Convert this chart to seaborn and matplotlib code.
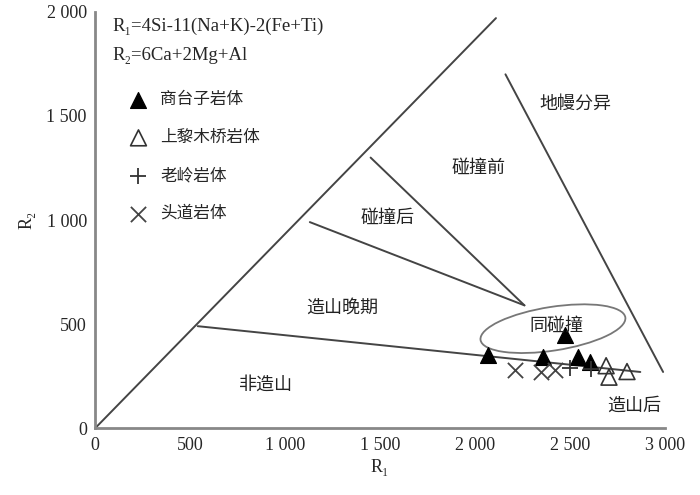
import pandas as pd
import matplotlib.pyplot as plt
import matplotlib.ticker as mtick
from matplotlib.patches import Ellipse
import seaborn as sns

# boundary lines of the R1-R2 diagram (R1, R2 endpoints)
linha_diagonal = ([0, 2110], [0, 1970])
linha_manto = ([2160, 2990], [1700, 270])
linha_naoorogenico = ([540, 2870], [490, 270])
linha_tardi = ([1130, 2260], [990, 590])
linha_poscolisao = ([1450, 2260], [1300, 590])
linhas = [linha_diagonal, linha_manto, linha_naoorogenico, linha_tardi, linha_poscolisao]

# syn-collision field
elipse_centro = (2410, 478)
elipse_largura = 770
elipse_altura = 210

# samples
shangtaizi_r1 = [2068, 2358, 2474, 2542, 2605]
shangtaizi_r2 = [351, 341, 447, 341, 317]
shangli_r1 = [2690, 2705, 2800]
shangli_r2 = [300, 245, 272]
laoling_r1 = [2500, 2610]
laoling_r2 = [290, 285]
toudao_r1 = [2210, 2345, 2420]
toudao_r2 = [279, 269, 279]

grupos = ["商台子岩体", "上黎木桥岩体", "老岭岩体", "头道岩体"]

campos = ["地幔分异", "碰撞前", "碰撞后", "造山晚期", "同碰撞", "非造山", "造山后"]
campos_r1 = [2530, 2020, 1540, 1300, 2430, 900, 2835]
campos_r2 = [1560, 1250, 1010, 580, 490, 210, 110]

sns.set_theme(style="white")
cjk = ["Noto Sans CJK SC", "DejaVu Sans"]
serif = ["Liberation Serif", "DejaVu Serif"]

fig = plt.figure(figsize=(7, 4.95), dpi=100)
ax = fig.add_axes([0.136, 0.135, 0.814, 0.841])

for xs, ys in linhas:
    ax.plot(xs, ys, color="#444444", linewidth=1.4)

ax.add_patch(Ellipse(elipse_centro, elipse_largura, elipse_altura, angle=8,
                     facecolor="none", edgecolor="#777777", linewidth=1.3))

df_st = pd.DataFrame({"R1": shangtaizi_r1, "R2": shangtaizi_r2})
df_sl = pd.DataFrame({"R1": shangli_r1, "R2": shangli_r2})
df_ll = pd.DataFrame({"R1": laoling_r1, "R2": laoling_r2})
df_td = pd.DataFrame({"R1": toudao_r1, "R2": toudao_r2})

sns.scatterplot(data=df_st, x="R1", y="R2", marker="^", s=130, color="black",
                edgecolor="black", label=grupos[0], ax=ax, zorder=5)
sns.scatterplot(data=df_sl, x="R1", y="R2", marker="^", s=130, facecolor="none",
                edgecolor="#333333", linewidth=1.2, label=grupos[1], ax=ax, zorder=5)
sns.scatterplot(data=df_ll, x="R1", y="R2", marker="+", s=140, color="#333333",
                linewidth=1.3, label=grupos[2], ax=ax, zorder=5)
sns.scatterplot(data=df_td, x="R1", y="R2", marker="x", s=120, color="#444444",
                linewidth=1.3, label=grupos[3], ax=ax, zorder=5)

for nome, x, y in zip(campos, campos_r1, campos_r2):
    ax.text(x, y, nome, family=cjk, fontsize=13, fontweight="medium", color="#222222",
            ha="center", va="center", zorder=6)

ax.text(0.03, 0.985, "R₁=4Si-11(Na+K)-2(Fe+Ti)", transform=ax.transAxes,
        family=serif, fontsize=13.5, va="top", ha="left")
ax.text(0.03, 0.915, "R₂=6Ca+2Mg+Al", transform=ax.transAxes,
        family=serif, fontsize=13.5, va="top", ha="left")

ax.legend(loc="upper left", bbox_to_anchor=(0.035, 0.825), frameon=False,
          labelspacing=1.25, handletextpad=0.3, borderaxespad=0,
          prop={"family": cjk, "size": 12})

ax.set_xlim(0, 3000)
ax.set_ylim(0, 2000)
ax.set_xticks(range(0, 3001, 500))
ax.set_yticks(range(0, 2001, 500))
ax.xaxis.set_major_formatter(mtick.FuncFormatter(lambda v, p: f"{int(v):,}".replace(",", " ")))
ax.yaxis.set_major_formatter(mtick.FuncFormatter(lambda v, p: f"{int(v):,}".replace(",", " ")))
ax.tick_params(axis="x", direction="in", length=4, color="#777777", labelsize=13, pad=6)
ax.tick_params(axis="y", direction="out", length=4, color="#777777", labelsize=13, pad=2)
for lab in ax.get_xticklabels() + ax.get_yticklabels():
    lab.set_family(serif)

ax.set_xlabel("R₁", family=serif, fontsize=13, labelpad=4)
ax.set_ylabel("R₂", family=serif, fontsize=13, labelpad=8)

for lado in ("top", "right"):
    ax.spines[lado].set_visible(False)
for lado in ("left", "bottom"):
    ax.spines[lado].set_color("#888888")
    ax.spines[lado].set_linewidth(2)

fig.savefig("out.png", dpi=100)
